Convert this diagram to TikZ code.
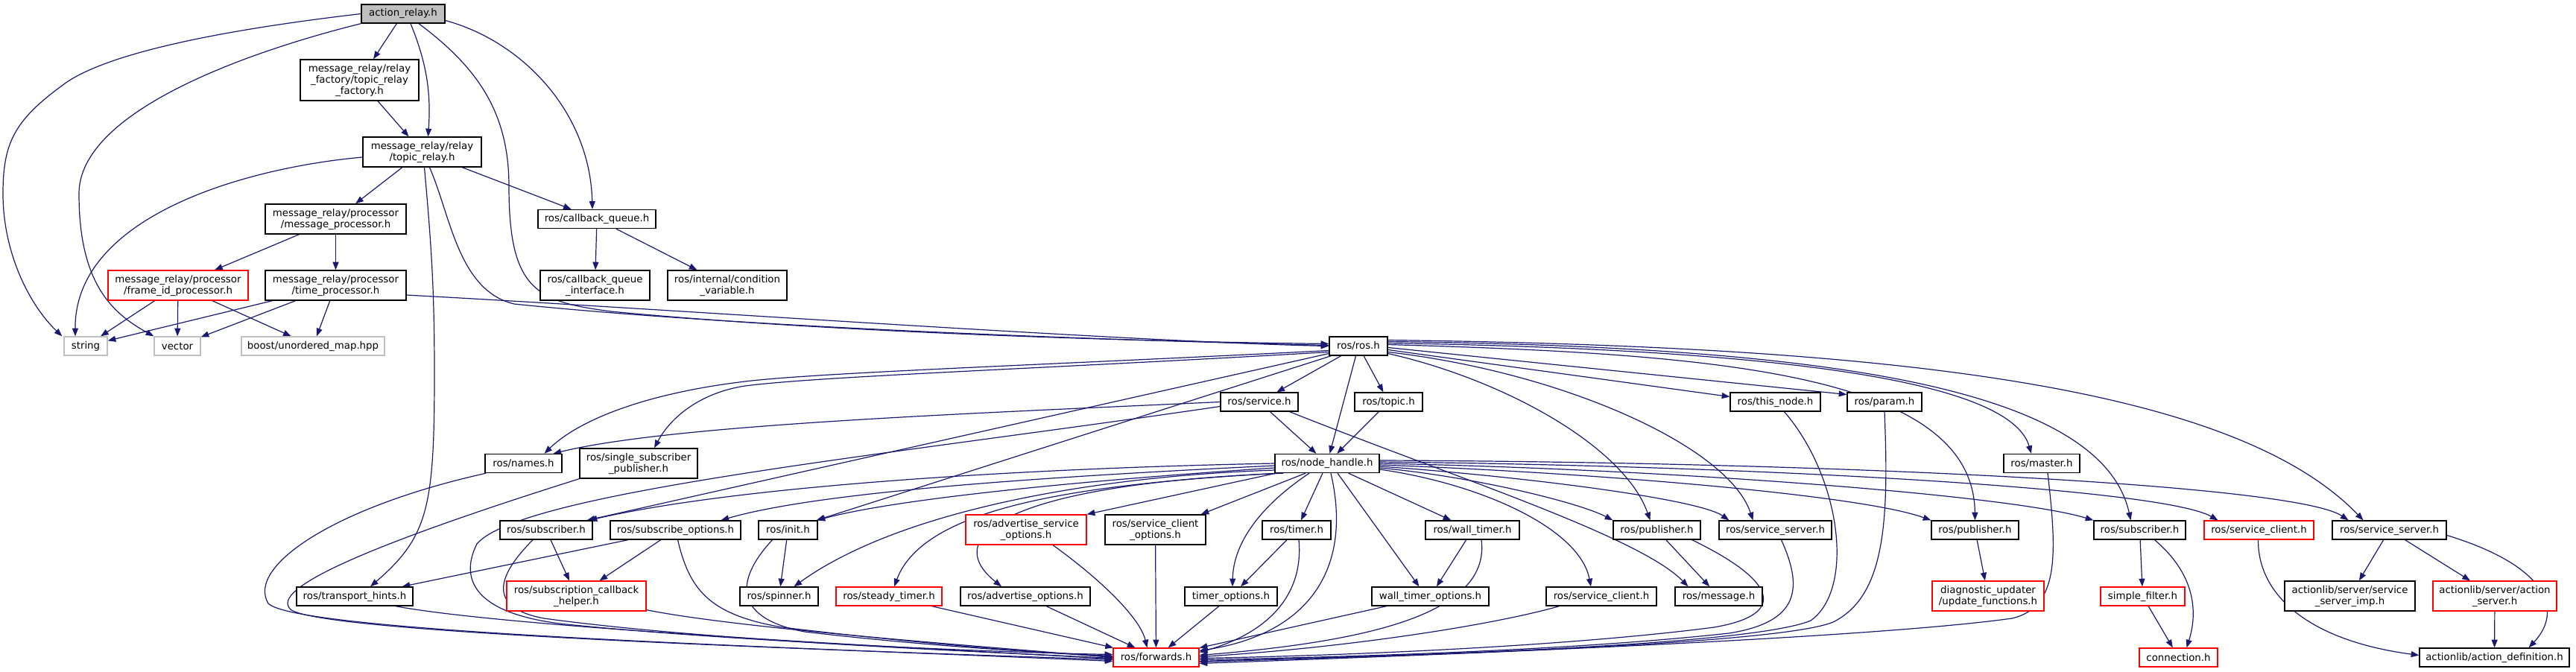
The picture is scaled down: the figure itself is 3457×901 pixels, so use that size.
\documentclass[tikz,border=0pt]{standalone}
\usepackage{fontspec}
\newfontfamily\dejavu{DejaVu Sans}
\usetikzlibrary{arrows.meta,calc}
\pgfdeclarelayer{background}
\pgfsetlayers{background,main}
\definecolor{edgeblue}{RGB}{25,25,112}
\definecolor{rootgray}{RGB}{191,191,191}
\definecolor{extgray}{RGB}{191,191,191}
\tikzset{every picture/.style={line width=0.75pt}}
\tikzset{
  hdr/.style={draw=black, line width=1pt, fill=white, inner sep=0pt, align=center,
    minimum height=18.75pt, font=\dejavu\fontsize{10}{11.25}\selectfont},
  boxw/.style={minimum width=#1*0.75pt},
  two/.style={minimum height=30pt},
  three/.style={minimum height=41.25pt},
  miss/.style={hdr, draw=red},
  ext/.style={hdr, draw=extgray},
  root/.style={hdr, fill=rootgray},
  incl/.style={draw=edgeblue, line width=0.9pt, -{Triangle[length=8pt,width=6pt]}},
}

\begin{document}
\begin{tikzpicture}[x=0.75pt,y=0.75pt,yscale=-1,xscale=1]
\useasboundingbox (0,0) rectangle (3457,901);

%Nodes: top part
\node[root, boxw=112] (action_relay) at (541,18.5) {action\_relay.h};
\node[hdr, boxw=159, three] (factory) at (482.5,107.5) {message\_relay/relay\\\_factory/topic\_relay\\\_factory.h};
\node[hdr, boxw=159, two] (topic_relay) at (566.5,204) {message\_relay/relay\\/topic\_relay.h};
\node[hdr, boxw=189, two] (msg_proc) at (450.5,294) {message\_relay/processor\\/message\_processor.h};
\node[miss, boxw=188, two] (frame_id) at (239,383) {message\_relay/processor\\/frame\_id\_processor.h};
\node[hdr, boxw=189, two] (time_proc) at (450.5,383) {message\_relay/processor\\/time\_processor.h};
\node[hdr, boxw=158] (cb_queue) at (801,294) {ros/callback\_queue.h};
\node[hdr, boxw=147, two] (cb_iface) at (798.5,383) {ros/callback\_queue\\\_interface.h};
\node[hdr, boxw=160, two] (cond_var) at (976,383) {ros/internal/condition\\\_variable.h};
\node[ext, boxw=58] (string) at (115,464.5) {string};
\node[ext, boxw=62] (vector) at (238,464.5) {vector};
\node[ext, boxw=192] (boost) at (420,464.5) {boost/unordered\_map.hpp};

%Nodes: ros.h and below
\node[hdr, boxw=78] (ros) at (1823,464.5) {ros/ros.h};
\node[hdr, boxw=104] (service) at (1690,539.5) {ros/service.h};
\node[hdr, boxw=91] (topic) at (1863.5,539.5) {ros/topic.h};
\node[hdr, boxw=121] (this_node) at (2382.5,539.5) {ros/this\_node.h};
\node[hdr, boxw=100] (param) at (2529,539.5) {ros/param.h};
\node[hdr, boxw=103] (names) at (702.5,622) {ros/names.h};
\node[hdr, boxw=158, two] (single_sub_pub) at (857,622) {ros/single\_subscriber\\\_publisher.h};
\node[hdr, boxw=140] (node_handle) at (1781,622) {ros/node\_handle.h};
\node[hdr, boxw=102] (master) at (2740,622) {ros/master.h};

%Nodes: included by node_handle.h
\node[hdr, boxw=124] (subscriberL) at (733,711.5) {ros/subscriber.h};
\node[hdr, boxw=175] (sub_opts) at (906.5,711.5) {ros/subscribe\_options.h};
\node[hdr, boxw=79] (init) at (1057.5,711.5) {ros/init.h};
\node[miss, boxw=162, two] (adv_srv_opts) at (1377,711) {ros/advertise\_service\\\_options.h};
\node[hdr, boxw=135, two] (srv_cli_opts) at (1550.5,711) {ros/service\_client\\\_options.h};
\node[hdr, boxw=92] (timer) at (1740,711.5) {ros/timer.h};
\node[hdr, boxw=126] (wall_timer) at (1976,711.5) {ros/wall\_timer.h};
\node[hdr, boxw=117] (publisherA) at (2223.5,711.5) {ros/publisher.h};
\node[hdr, boxw=151] (srv_serverA) at (2382.5,711.5) {ros/service\_server.h};
\node[hdr, boxw=117] (publisherB) at (2650.5,711.5) {ros/publisher.h};
\node[hdr, boxw=123] (subscriberR) at (2871.5,711.5) {ros/subscriber.h};
\node[miss, boxw=147] (srv_client_red) at (3031.5,711.5) {ros/service\_client.h};
\node[hdr, boxw=153] (srv_serverB) at (3206.5,711.5) {ros/service\_server.h};

%Nodes: second lowest row
\node[hdr, boxw=156] (transport_hints) at (476,800.5) {ros/transport\_hints.h};
\node[miss, boxw=187, two] (sub_cb_helper) at (773.5,800) {ros/subscription\_callback\\\_helper.h};
\node[hdr, boxw=105] (spinner) at (1045.5,800.5) {ros/spinner.h};
\node[miss, boxw=142] (steady_timer) at (1193,800.5) {ros/steady\_timer.h};
\node[hdr, boxw=174] (adv_opts) at (1376,800.5) {ros/advertise\_options.h};
\node[hdr, boxw=124] (timer_opts) at (1652,800.5) {timer\_options.h};
\node[hdr, boxw=157] (wall_timer_opts) at (1919.5,800.5) {wall\_timer\_options.h};
\node[hdr, boxw=148] (srv_clientL) at (2149,800.5) {ros/service\_client.h};
\node[hdr, boxw=117] (message) at (2306.5,800.5) {ros/message.h};
\node[miss, boxw=150, two] (diag) at (2668,800) {diagnostic\_updater\\/update\_functions.h};
\node[miss, boxw=113] (simple_filter) at (2875.5,800.5) {simple\_filter.h};
\node[hdr, boxw=175, two] (srv_server_imp) at (3153.5,800) {actionlib/server/service\\\_server\_imp.h};
\node[miss, boxw=166, two] (action_server) at (3348,800) {actionlib/server/action\\\_server.h};

%Nodes: bottom row
\node[miss, boxw=115] (forwards) at (1551.5,882.5) {ros/forwards.h};
\node[miss, boxw=105] (connection) at (2923.5,882.5) {connection.h};
\node[hdr, boxw=201] (action_def) at (3347.5,882.5) {actionlib/action\_definition.h};

\begin{pgfonlayer}{background}
%Edges: action_relay.h
\draw[incl] (action_relay.west) .. controls (300,40) and (150,70) .. (90,110) .. controls (20,160) and (4,190) .. (4,260) .. controls (4,340) and (40,410) .. ($(string.north west)+(-2,0)$);
\draw[incl] (action_relay.south west) .. controls (330,70) and (106,150) .. (106,260) .. controls (106,380) and (150,420) .. (vector.north west);
\draw[incl] (action_relay) -- (factory);
\draw[incl] ($(action_relay.south)+(10,0)$) .. controls (575,90) and (578,130) .. ($(topic_relay.north)+(8,0)$);
\draw[incl] ($(action_relay.east)+(0,9)$) .. controls (700,55) and (792,150) .. ($(cb_queue.north)+(-6,0)$);
\draw[incl] ($(action_relay.south)+(21,0)$) .. controls (640,90) and (683,150) .. (683,250) .. controls (683,390) and (720,405) .. (820,418) .. controls (1100,445) and (1500,458) .. ($(ros.west)+(0,-3)$);

%Edges: message_relay headers
\draw[incl] (factory) -- (topic_relay);
\draw[incl] ($(topic_relay.west)+(0,7)$) .. controls (330,225) and (100,290) .. ($(string.north)+(-14,0)$);
\draw[incl] (topic_relay) -- (msg_proc);
\draw[incl] (topic_relay) -- (cb_queue);
\draw[incl] ($(topic_relay.south)+(3,0)$) .. controls (578,320) and (583,380) .. (583,500) .. controls (583,680) and (575,720) .. ($(transport_hints.north)+(21,0)$);
\draw[incl] ($(topic_relay.south)+(10,0)$) .. controls (605,290) and (615,390) .. (690,408) .. controls (1000,440) and (1500,457) .. ($(ros.west)+(0,-1)$);
\draw[incl] (msg_proc) -- (frame_id);
\draw[incl] (msg_proc) -- (time_proc);
\draw[incl] (frame_id) -- (string);
\draw[incl] (frame_id) -- (vector);
\draw[incl] (frame_id) -- (boost);
\draw[incl] (time_proc) -- (string);
\draw[incl] (time_proc) -- (vector);
\draw[incl] (time_proc) -- (boost);
\draw[incl] ($(time_proc.east)+(0,13)$) .. controls (900,415) and (1500,458) .. (ros.west);
\draw[incl] (cb_queue) -- (cb_iface);
\draw[incl] (cb_queue) -- (cond_var);

%Edges: ros/ros.h
\draw[incl] (ros) -- (service);
\draw[incl] (ros) -- (topic);
\draw[incl] (ros) -- (node_handle);
\draw[incl] ($(ros.east)+(0,5)$) -- ($(this_node.west)+(0,-7)$);
\draw[incl] ($(ros.east)+(0,2)$) -- ($(param.west)+(0,-10)$);
\draw[incl] ($(ros.west)+(0,6)$) .. controls (1400,490) and (1100,500) .. (1000,512) .. controls (850,530) and (770,570) .. ($(names.north)+(28,0)$);
\draw[incl] ($(ros.west)+(0,8)$) .. controls (1400,495) and (1100,505) .. (1000,518) .. controls (940,527) and (900,560) .. ($(single_sub_pub.north)+(21,0)$);
\draw[incl] ($(ros.west)+(0,10)$) -- ($(subscriberL.north east)+(-8,0)$);
\draw[incl] ($(ros.south west)+(3,0)$) -- ($(init.north east)+(-2,0)$);
\draw[incl] ($(ros.east)+(0,10)$) .. controls (2020,510) and (2180,600) .. ($(publisherA.north)+(-9,0)$);
\draw[incl] ($(ros.east)+(0,8)$) .. controls (2100,500) and (2320,600) .. ($(srv_serverA.north)+(-30,0)$);
\draw[incl] ($(ros.east)+(0,-2)$) .. controls (2300,475) and (2648,500) .. (publisherB.north);
\draw[incl] ($(ros.east)+(0,-4)$) .. controls (2450,470) and (2700,520) .. ($(master.north)+(-14,0)$);
\draw[incl] ($(ros.east)+(0,-6)$) .. controls (2450,465) and (2820,520) .. ($(subscriberR.north)+(-12,0)$);
\draw[incl] ($(ros.east)+(0,-8)$) .. controls (2550,465) and (3000,520) .. ($(srv_serverB.north)+(-35,0)$);

%Edges: ros/service.h and ros/topic.h
\draw[incl] (service.west) .. controls (1300,555) and (900,570) .. ($(names.north)+(40,0)$);
\draw[incl] ($(service.west)+(0,6)$) .. controls (1200,610) and (700,660) .. (640,730) .. controls (615,780) and (640,825) .. (760,838) .. controls (1000,862) and (1350,876) .. ($(forwards.west)+(0,-4)$);
\draw[incl] (service) -- (node_handle);
\draw[incl] ($(service.south east)+(-12,0)$) .. controls (1950,640) and (2200,720) .. ($(message.north)+(-41,0)$);
\draw[incl] (topic) -- (node_handle);

%Edges: ros/node_handle.h
\draw[incl] (node_handle.west) .. controls (1400,628) and (1000,650) .. ($(subscriberL.north east)+(-5,0)$);
\draw[incl] ($(node_handle.west)+(0,3)$) .. controls (1400,640) and (1100,660) .. ($(sub_opts.north)+(61,0)$);
\draw[incl] ($(node_handle.west)+(0,6)$) .. controls (1450,645) and (1200,670) .. ($(init.north east)+(-1,0)$);
\draw[incl] ($(node_handle.west)+(0,9)$) .. controls (1450,640) and (1200,690) .. ($(spinner.north)+(20,0)$);
\draw[incl] ($(node_handle.south west)+(4,0)$) .. controls (1450,650) and (1240,680) .. ($(steady_timer.north)+(7,0)$);
\draw[incl] ($(node_handle.south west)+(12,0)$) .. controls (1350,650) and (1260,720) .. ($(adv_opts.north)+(-32,0)$);
\draw[incl] ($(node_handle.south west)+(2,0)$) -- (adv_srv_opts.north east);
\draw[incl] ($(node_handle.south)+(-29,0)$) -- ($(srv_cli_opts.north east)+(-7,0)$);
\draw[incl] (node_handle) -- (timer);
\draw[incl] ($(node_handle.south)+(-24,0)$) .. controls (1690,680) and (1655,730) .. ($(timer_opts.north)+(2,0)$);
\draw[incl] (node_handle) -- (wall_timer);
\draw[incl] ($(node_handle.south)+(14,0)$) -- ($(wall_timer_opts.north)+(-15,0)$);
\draw[incl] ($(node_handle.south)+(5,0)$) .. controls (1815,760) and (1760,850) .. ($(forwards.east)+(0,-9)$);
\draw[incl] ($(node_handle.east)+(0,8)$) .. controls (1990,650) and (2120,710) .. ($(srv_clientL.north)+(-14,0)$);
\draw[incl] ($(node_handle.east)+(0,6)$) .. controls (1980,640) and (2120,675) .. (publisherA.north west);
\draw[incl] ($(node_handle.east)+(0,4)$) .. controls (2050,640) and (2280,670) .. ($(srv_serverA.north west)+(14,0)$);
\draw[incl] ($(node_handle.east)+(0,2)$) .. controls (2150,635) and (2500,665) .. (publisherB.north west);
\draw[incl] (node_handle.east) .. controls (2250,630) and (2700,665) .. (subscriberR.north west);
\draw[incl] ($(node_handle.east)+(0,-2)$) .. controls (2350,625) and (2900,655) .. ($(srv_client_red.north)+(-55,0)$);
\draw[incl] ($(node_handle.east)+(0,-4)$) .. controls (2450,620) and (3080,650) .. ($(srv_serverB.north)+(-55,0)$);

%Edges: into ros/forwards.h from the left
\draw[incl] ($(names.south west)+(2,0)$) .. controls (450,680) and (330,760) .. (360,810) .. controls (400,850) and (1100,870) .. ($(forwards.west)+(0,5)$);
\draw[incl] (single_sub_pub.south west) .. controls (500,730) and (360,790) .. (390,818) .. controls (430,850) and (1100,872) .. ($(forwards.west)+(0,3)$);
\draw[incl] ($(subscriberL.south)+(-18,0)$) .. controls (670,770) and (650,815) .. (730,830) .. controls (950,860) and (1300,874) .. ($(forwards.west)+(0,1)$);
\draw[incl] (subscriberL) -- (sub_cb_helper);
\draw[incl] (sub_opts) -- (transport_hints);
\draw[incl] (sub_opts) -- (sub_cb_helper);
\draw[incl] ($(sub_opts.south)+(3,0)$) .. controls (925,790) and (950,825) .. (1050,842) .. controls (1250,866) and (1400,876) .. ($(forwards.west)+(0,-1)$);
\draw[incl] (init) -- (spinner);
\draw[incl] ($(init.south)+(-21,0)$) .. controls (985,780) and (985,830) .. (1080,848) .. controls (1250,868) and (1400,876) .. ($(forwards.west)+(0,-2)$);
\draw[incl] ($(transport_hints.south)+(55,0)$) .. controls (700,845) and (1300,873) .. ($(forwards.west)+(0,2)$);
\draw[incl] ($(sub_cb_helper.south east)+(0,-2)$) .. controls (1000,845) and (1350,870) .. (forwards.west);
\draw[incl] (steady_timer) -- (forwards);
\draw[incl] (adv_opts) -- (forwards);
\draw[incl] ($(adv_srv_opts.south)+(36,0)$) .. controls (1480,780) and (1530,830) .. ($(forwards.north)+(-12,0)$);
\draw[incl] (srv_cli_opts) -- (forwards);

%Edges: into ros/forwards.h from the right
\draw[incl] (timer) -- (timer_opts);
\draw[incl] ($(timer.south)+(3,0)$) .. controls (1750,800) and (1700,850) .. ($(forwards.east)+(0,-7)$);
\draw[incl] (timer_opts) -- (forwards);
\draw[incl] (wall_timer) -- (wall_timer_opts);
\draw[incl] ($(wall_timer.south)+(12,0)$) .. controls (2000,820) and (1850,860) .. ($(forwards.east)+(0,-3)$);
\draw[incl] (wall_timer_opts) -- (forwards);
\draw[incl] ($(srv_clientL.south west)+(18,0)$) .. controls (2000,840) and (1800,870) .. ($(forwards.east)+(0,-1)$);
\draw[incl] (publisherA) -- (message);
\draw[incl] ($(publisherA.south east)+(-12,0)$) .. controls (2385,780) and (2400,825) .. (2300,842) .. controls (2100,868) and (1800,880) .. ($(forwards.east)+(0,1)$);
\draw[incl] ($(srv_serverA.south)+(8,0)$) .. controls (2420,790) and (2415,835) .. (2320,850) .. controls (2100,874) and (1800,882) .. ($(forwards.east)+(0,3)$);
\draw[incl] ($(this_node.south)+(12,0)$) .. controls (2470,640) and (2490,790) .. (2430,833) .. controls (2340,870) and (1800,882) .. ($(forwards.east)+(0,5)$);
\draw[incl] (param.south) .. controls (2535,700) and (2530,800) .. (2460,835) .. controls (2380,868) and (1800,882) .. ($(forwards.east)+(0,6)$);
\draw[incl] ($(master.south)+(8,0)$) .. controls (2760,740) and (2765,815) .. (2700,830) .. controls (2500,858) and (1900,880) .. ($(forwards.east)+(0,8)$);

%Edges: right hand side
\draw[incl] (publisherB) -- (diag);
\draw[incl] (subscriberR) -- (simple_filter);
\draw[incl] ($(subscriberR.south)+(20,0)$) .. controls (2945,770) and (2950,820) .. ($(connection.north)+(11,0)$);
\draw[incl] (simple_filter) -- (connection);
\draw[incl] ($(srv_client_red.south)+(-1,0)$) .. controls (3030,800) and (3100,860) .. ($(action_def.west)+(0,-3)$);
\draw[incl] (srv_serverB) -- (srv_server_imp);
\draw[incl] (srv_serverB) -- (action_server);
\draw[incl] ($(srv_serverB.east)+(0,7)$) .. controls (3420,760) and (3440,820) .. ($(action_def.north)+(46,0)$);
\draw[incl] (action_server) -- (action_def);
\end{pgfonlayer}
\end{tikzpicture}
\end{document}
